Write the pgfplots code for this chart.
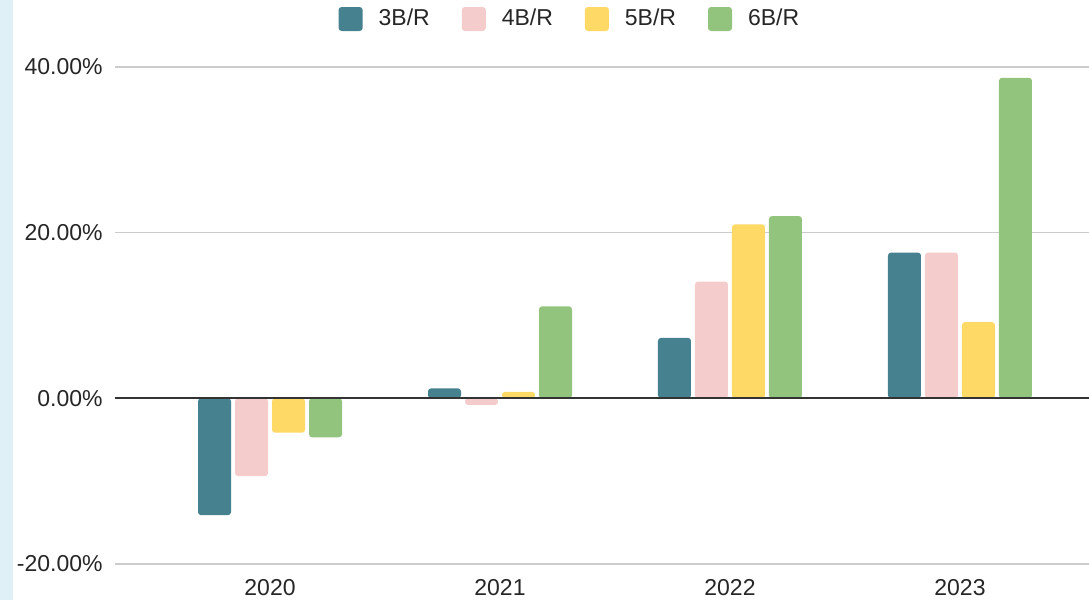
\documentclass[border=0pt]{standalone}
\usepackage{fontspec}
\setmainfont{Liberation Sans}
\usepackage{pgfplots}
\pgfplotsset{compat=1.18}

\definecolor{c3}{HTML}{45818E}
\definecolor{c4}{HTML}{F4CCCC}
\definecolor{c5}{HTML}{FFD966}
\definecolor{c6}{HTML}{93C47D}
\definecolor{strip}{HTML}{DFF1F6}
\definecolor{gridc}{HTML}{CCCCCC}

\begin{document}
\begin{tikzpicture}
% 1 px of the reference = 0.5pt
\useasboundingbox (-57.5pt,-18pt) rectangle (487pt,282pt);
\fill[strip] (-57.5pt,-18pt) rectangle (-51pt,282pt);
\begin{axis}[
    at={(0,0)}, anchor=south west,
    scale only axis,
    width=487pt, height=248.5pt,
    ybar=2pt, bar width=16.5pt,
    xmin=-0.674, xmax=3.561,
    ymin=-20, ymax=40,
    xtick={0,1,2,3},
    xticklabels={2020,2021,2022,2023},
    ytick={-20,0,20,40},
    yticklabels={-20.00\%,0.00\%,20.00\%,40.00\%},
    ymajorgrids,
    grid style={gridc, line width=0.75pt},
    axis line style={draw=none},
    tick style={draw=none},
    font=\fontsize{11.5}{13}\selectfont,
    ticklabel style={text=black!85},
    yticklabel style={anchor=east, inner sep=0pt, xshift=-6pt},
    xticklabel style={anchor=north, inner sep=0pt, yshift=-3.5pt},
    every axis plot/.append style={draw=none, rounded corners=1.5pt},
    legend columns=4,
    legend style={draw=none, fill=none,
        at={(0.466,1.0966)}, anchor=center,
        font=\fontsize{11.5}{13}\selectfont,
        text=black!85,
        nodes={inner sep=0pt},
        /tikz/every odd column/.append style={column sep=8pt},
        /tikz/every even column/.append style={column sep=16pt}},
    legend image code/.code={\fill[#1, rounded corners=1.5pt] (0pt,-6pt) rectangle (12pt,6pt);},
]
\addplot[fill=c3] coordinates {(0,-14.1) (1,1.2) (2,7.3) (3,17.6)};
\addplot[fill=c4] coordinates {(0,-9.4) (1,-0.8) (2,14.1) (3,17.6)};
\addplot[fill=c5] coordinates {(0,-4.15) (1,0.77) (2,21.0) (3,9.2)};
\addplot[fill=c6] coordinates {(0,-4.7) (1,11.1) (2,22.0) (3,38.7)};
\legend{3B/R,4B/R,5B/R,6B/R}
\draw[black!80, line width=1pt] (axis cs:-0.674,0) -- (axis cs:3.561,0);
\end{axis}
\end{tikzpicture}
\end{document}
